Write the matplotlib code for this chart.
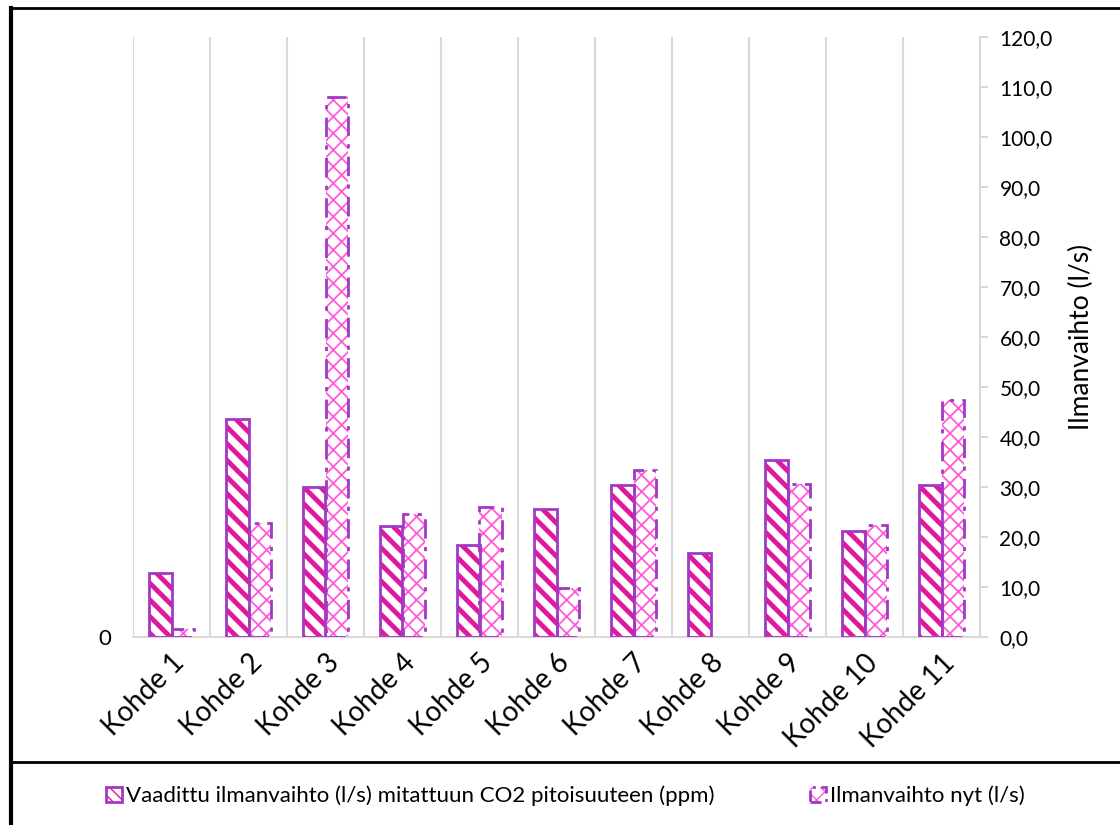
import matplotlib.pyplot as plt
import numpy as np
from matplotlib.lines import Line2D
from matplotlib.patches import Patch
from matplotlib.ticker import FuncFormatter, MultipleLocator

# Data
sites = ['Kohde 1', 'Kohde 2', 'Kohde 3', 'Kohde 4', 'Kohde 5', 'Kohde 6',
         'Kohde 7', 'Kohde 8', 'Kohde 9', 'Kohde 10', 'Kohde 11']
required = [12.8, 43.6, 30.0, 22.2, 18.4, 25.6, 30.4, 16.8, 35.4, 21.2, 30.4]
current = [1.6, 22.8, 108.0, 24.6, 26.0, 9.8, 33.4, 0.0, 30.6, 22.4, 47.4]
label_required = 'Vaadittu ilmanvaihto (l/s) mitattuun CO2 pitoisuuteen (ppm)'
label_current = 'Ilmanvaihto nyt (l/s)'
ylabel = 'Ilmanvaihto (l/s)'

magenta = '#E0189E'
pink = '#FF5ADA'
purple = '#A238C4'
grid_grey = '#D9D9D9'

plt.rcParams['font.family'] = ['Lato', 'DejaVu Sans']
plt.rcParams['font.size'] = 15

x = np.arange(len(sites))
width = 0.29

fig = plt.figure(figsize=(11.2, 8.25), dpi=100)
ax = fig.add_axes([133 / 1120, 1 - 637 / 825, (980 - 133) / 1120, 600 / 825])

# hatched fills first, then the outlines on top
plt.rcParams['hatch.linewidth'] = 3.5
ax.bar(x - width / 2, required, width, color='white', edgecolor=magenta,
       linewidth=0, hatch='\\\\', zorder=2)
plt.rcParams['hatch.linewidth'] = 1.3
ax.bar(x + width / 2, current, width, color='white', edgecolor=pink,
       linewidth=0, hatch='xx', zorder=2)
ax.bar(x - width / 2, required, width, fill=False, edgecolor=purple,
       linewidth=2, zorder=3)
cur_edges = ax.bar(x + width / 2, current, width, fill=False, edgecolor=purple,
                   linewidth=2, linestyle=(0, (7, 3, 1.5, 3)), zorder=3)
for b, v in zip(cur_edges, current):
    if v == 0:
        b.set_visible(False)

ax.set_xlim(-0.5, len(sites) - 0.5)
ax.set_ylim(0, 120)

# category separators
for k in range(len(sites)):
    ax.axvline(k - 0.5, color=grid_grey, linewidth=1.5, zorder=0)

ax.set_xticks(x)
ax.set_xticklabels(sites, rotation=45, ha='right', rotation_mode='anchor',
                   fontsize=20)
ax.tick_params(axis='x', length=0, pad=9)
ax.set_yticks([0])
ax.set_yticklabels(['0'])
ax.tick_params(axis='y', length=0, pad=16, labelsize=16)
for side in ['top', 'right', 'left']:
    ax.spines[side].set_visible(False)
ax.spines['bottom'].set_color(grid_grey)
ax.spines['bottom'].set_linewidth(1.5)

# secondary scale on the right
ax2 = ax.twinx()
ax2.set_ylim(0, 120)
ax2.yaxis.set_major_locator(MultipleLocator(10))
ax2.yaxis.set_major_formatter(FuncFormatter(lambda v, p: f'{v:.1f}'.replace('.', ',')))
ax2.tick_params(axis='y', length=6, width=1.5, color=grid_grey, pad=8)
for side in ['top', 'left', 'bottom']:
    ax2.spines[side].set_visible(False)
ax2.spines['right'].set_color(grid_grey)
ax2.spines['right'].set_linewidth(1.5)
ax2.set_ylabel(ylabel, labelpad=12, fontsize=19)

# legend along the bottom
plt.rcParams['hatch.linewidth'] = 2.5
h1 = (Patch(facecolor='white', edgecolor=magenta, linewidth=0, hatch='\\\\\\'),
      Patch(fill=False, edgecolor=purple, linewidth=2))
plt.rcParams['hatch.linewidth'] = 1.0
h2 = (Patch(facecolor='white', edgecolor=pink, linewidth=0, hatch='xx'),
      Patch(fill=False, edgecolor=purple, linewidth=2, linestyle=(0, (4, 2, 1, 2))))
fig.legend([h1, h2], [label_required, label_current], ncol=2,
           loc='center left', bbox_to_anchor=(86 / 1120, 1 - 796 / 825),
           frameon=False, handlelength=0.7, handleheight=0.7,
           handletextpad=0.2, columnspacing=4.3, fontsize=16)

# chart frame
frame = dict(color='black', linewidth=2, transform=fig.transFigure)
fig.add_artist(Line2D([10 / 1120, 1], [1 - 8 / 825, 1 - 8 / 825], **frame))
fig.add_artist(Line2D([11 / 1120, 11 / 1120], [0, 1 - 8 / 825], linewidth=3,
                      color='black', transform=fig.transFigure))
fig.add_artist(Line2D([10 / 1120, 1], [1 - 762 / 825, 1 - 762 / 825], **frame))

plt.savefig('out.png', dpi=100)
